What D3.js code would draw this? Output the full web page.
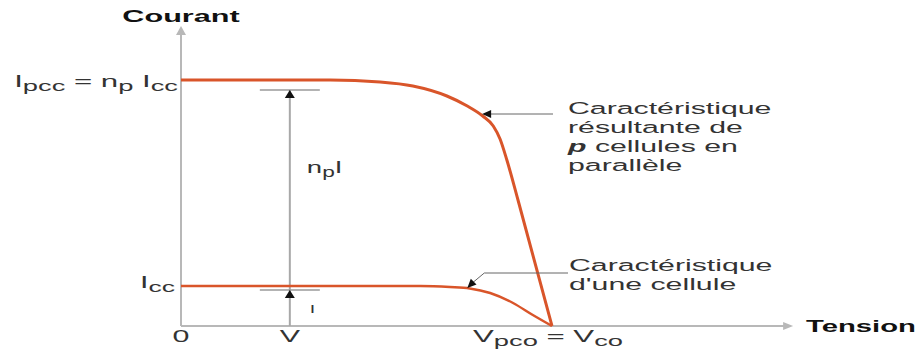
<!DOCTYPE html>
<html>
<head>
<meta charset="utf-8">
<script src="https://cdn.jsdelivr.net/npm/d3@7"></script>
<style>
  html, body { margin: 0; padding: 0; background: #fff; }
  svg { display: block; }
  text { font-family: "Liberation Sans", Arial, Helvetica, sans-serif; }
</style>
</head>
<body>
<svg id="chart" width="920" height="351"></svg>
<script>
// I-V characteristic of one cell (voltage in V, current in units of Icc)
const cellVolts = [0, 0.387, 0.435, 0.467, 0.500, 0.537, 0.569, 0.600];
const cellAmps  = [1.0, 1.0, 0.975, 0.94, 0.825, 0.575, 0.275, 0.0];

// Resulting characteristic of p cells wired in parallel
const parVolts = [0, 0.241, 0.322, 0.375, 0.430, 0.463, 0.488, 0.505, 0.516, 0.527, 0.545, 0.600];
const parAmps  = [6.15, 6.15, 6.10, 6.00, 5.75, 5.50, 5.25, 5.00, 4.675, 4.15, 3.15, 0.0];

// Key values
const Icc = 1.0;          // short-circuit current of one cell
const Ipcc = 6.15;        // short-circuit current of the group
const Vco = 0.600;        // open-circuit voltage
const Vop = 0.176;        // operating voltage V
const Iop = 0.90;         // current I of one cell at V
const npIop = 5.90;       // current np·I of the group at V

// Axis extents
const vAxisMax = 0.99;
const iAxisMax = 7.5;

const svg = d3.select("#chart");
const x = d3.scaleLinear().domain([0, Vco]).range([181, 552]);
const y = d3.scaleLinear().domain([0, Ipcc]).range([326, 80]);

const SX = 1.78;            // horizontal stretch of the lettering
const ORANGE = "#d9552a";
const AXIS = "#b8b8b8";
const INK = "#333";

// Writes a label made of (text, kind) pieces; kind: "n" normal, "s" subscript, "bi" bold italic
function label(px, py, parts, opts = {}) {
  const size = opts.size || 16;
  const sub = opts.sub || Math.round(size * 0.8);
  const t = svg.append("text")
    .attr("transform", `translate(${px},${py}) scale(${opts.sx || SX},1)`)
    .attr("text-anchor", opts.anchor || "start")
    .attr("fill", opts.fill || INK)
    .attr("font-size", size)
    .attr("font-weight", opts.weight || "normal");
  let lowered = false;
  parts.forEach(([txt, kind]) => {
    const s = t.append("tspan").text(txt).attr("xml:space", "preserve");
    if (kind === "s") {
      s.attr("font-size", sub);
      if (!lowered) { s.attr("dy", 4); lowered = true; }
    } else {
      if (lowered) { s.attr("dy", -4); lowered = false; }
      if (kind === "bi") s.attr("font-weight", "bold").attr("font-style", "italic");
    }
  });
  return t;
}

function arrowHead(tipX, tipY, angleDeg, len, half, fill) {
  svg.append("path")
    .attr("d", `M0,0 L${-len},${-half} L${-len},${half} Z`)
    .attr("transform", `translate(${tipX},${tipY}) rotate(${angleDeg})`)
    .attr("fill", fill);
}

// Axes
svg.append("line")
  .attr("x1", x(0)).attr("y1", y(0)).attr("x2", x(0)).attr("y2", y(iAxisMax) + 6)
  .attr("stroke", AXIS).attr("stroke-width", 2);
arrowHead(x(0), y(iAxisMax), -90, 9, 5, AXIS);
svg.append("line")
  .attr("x1", x(0)).attr("y1", y(0)).attr("x2", x(vAxisMax) - 6).attr("y2", y(0))
  .attr("stroke", AXIS).attr("stroke-width", 2);
arrowHead(x(vAxisMax), y(0), 0, 10, 4, AXIS);

// Operating point: vertical at V with the two current markers
svg.append("line")
  .attr("x1", x(Vop)).attr("x2", x(Vop))
  .attr("y1", y(0)).attr("y2", y(npIop))
  .attr("stroke", "#a8a8a8").attr("stroke-width", 2);
[npIop, Iop].forEach(v => {
  svg.append("line")
    .attr("x1", x(Vop) - 30).attr("x2", x(Vop) + 30)
    .attr("y1", y(v)).attr("y2", y(v))
    .attr("stroke", "#9a9a9a").attr("stroke-width", 1.5);
  arrowHead(x(Vop), y(v), -90, 8, 5, "#111");
});

// Curves
const line = d3.line().x(d => x(d[0])).y(d => y(d[1])).curve(d3.curveMonotoneX);
svg.append("path")
  .datum(cellVolts.map((v, i) => [v, cellAmps[i]]))
  .attr("d", line).attr("fill", "none")
  .attr("stroke", ORANGE).attr("stroke-width", 2.5);
svg.append("path")
  .datum(parVolts.map((v, i) => [v, parAmps[i]]))
  .attr("d", line).attr("fill", "none")
  .attr("stroke", ORANGE).attr("stroke-width", 3);

// Callout leaders
const parTip = [0.487, 5.3];
const cellTip = [0.463, 0.95];
svg.append("line")
  .attr("x1", x(parTip[0]) + 8).attr("y1", y(parTip[1]))
  .attr("x2", 553).attr("y2", y(parTip[1]))
  .attr("stroke", "#666").attr("stroke-width", 1);
arrowHead(x(parTip[0]), y(parTip[1]), 180, 9, 4, "#111");
svg.append("polyline")
  .attr("points", `${x(cellTip[0]) + 5},${y(cellTip[1]) - 5} ${x(cellTip[0]) + 17},${y(cellTip[1]) - 15} 568,${y(cellTip[1]) - 15}`)
  .attr("fill", "none").attr("stroke", "#666").attr("stroke-width", 1);
arrowHead(x(cellTip[0]), y(cellTip[1]), 135, 9, 4, "#111");

// Axis titles
label(x(0), 22, [["Courant", "n"]], { size: 17, weight: "bold", anchor: "middle", fill: "#111", sx: 1.8 });
label(806, 332, [["Tension", "n"]], { size: 17, weight: "bold", fill: "#111", sx: 1.72 });

// Axis value labels
label(x(0) - 3, y(Ipcc) + 7, [["I", "n"], ["pcc", "s"], [" = n", "n"], ["p", "s"], [" I", "n"], ["cc", "s"]], { size: 16, sub: 14, anchor: "end", sx: 1.95 });
label(x(0) - 6, y(Icc) + 2, [["I", "n"], ["cc", "s"]], { size: 16, sub: 14, anchor: "end", sx: 1.9 });
label(x(0), 342, [["0", "n"]], { size: 16, anchor: "middle", sx: 1.9 });
label(x(Vop), 342, [["V", "n"]], { size: 16, anchor: "middle", sx: 1.9 });
label(x(Vco) - 4, 342, [["V", "n"], ["pco", "s"], [" = V", "n"], ["co", "s"]], { size: 16, sub: 14, anchor: "middle", sx: 1.95 });

// Current labels on the operating vertical
label(x(Vop) + 17, 173, [["n", "n"], ["p", "s"], ["I", "n"]], { size: 17, sub: 14, sx: 1.62 });
label(x(Vop) + 20, 313, [["I", "n"]], { size: 11 });

// Callout texts
label(568, 114, [["Caractéristique", "n"]], { size: 17 });
label(568, 133, [["résultante de", "n"]], { size: 17 });
label(568, 152, [["p", "bi"], [" cellules en", "n"]], { size: 17 });
label(568, 171, [["parallèle", "n"]], { size: 17 });
label(569, 271, [["Caractéristique", "n"]], { size: 17 });
label(569, 290, [["d'une cellule", "n"]], { size: 17 });
</script>
</body>
</html>
